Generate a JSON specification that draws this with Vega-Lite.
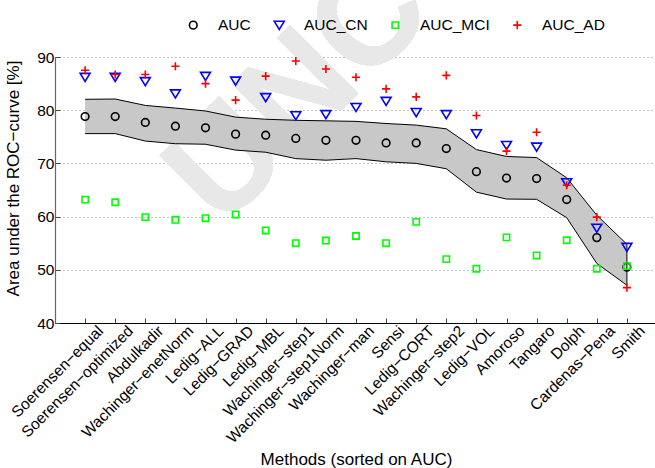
{
  "$schema": "https://vega.github.io/schema/vega-lite/v6.json",
  "autosize": "none",
  "padding": {"left": 55, "top": 57, "right": 0, "bottom": 145},
  "width": 602,
  "height": 266,
  "background": "white",
  "config": {
    "font": "Liberation Sans",
    "view": {"stroke": null},
    "axis": {"labelFont": "Liberation Sans", "titleFont": "Liberation Sans", "labelColor": "#000", "titleColor": "#000", "titleFontWeight": "normal"},
    "axisX": {
      "domainColor": "#000", "domainWidth": 1, "tickColor": "#444", "tickSize": -5, "tickWidth": 1,
      "labelFontSize": 15.5, "labelAngle": -45, "labelAlign": "right", "labelBaseline": "top", "labelPadding": 5, "labelOffset": 10,
      "labelOverlap": false, "labelBound": false, "labelFlush": false,
      "titleFontSize": 17, "grid": false
    },
    "axisY": {
      "domainColor": "#666", "domainWidth": 1.2, "tickColor": "#444", "tickSize": -5, "tickWidth": 1,
      "labelFontSize": 15.5, "labelPadding": 6, "titleFontSize": 17, "labelOverlap": false,
      "grid": true, "gridColor": "#888", "gridDash": [1, 3], "gridWidth": 1
    },
    "legend": {"labelFont": "Liberation Sans", "labelFontSize": 15.5, "labelColor": "#000"}
  },
  "data": {
    "values": [
      {"i": 1, "m": "Soerensen−equal", "AUC": 78.8, "AUC_CN": 86.2, "AUC_MCI": 63.2, "AUC_AD": 87.5, "lo": 75.6, "hi": 82.05},
      {"i": 2, "m": "Soerensen−optimized", "AUC": 78.8, "AUC_CN": 86.2, "AUC_MCI": 62.7, "AUC_AD": 86.7, "lo": 75.6, "hi": 82.1},
      {"i": 3, "m": "Abdulkadir", "AUC": 77.7, "AUC_CN": 85.4, "AUC_MCI": 59.9, "AUC_AD": 86.7, "lo": 74.2, "hi": 80.9},
      {"i": 4, "m": "Wachinger−enetNorm", "AUC": 77.0, "AUC_CN": 83.1, "AUC_MCI": 59.4, "AUC_AD": 88.25, "lo": 73.7, "hi": 80.4},
      {"i": 5, "m": "Ledig−ALL", "AUC": 76.7, "AUC_CN": 86.4, "AUC_MCI": 59.7, "AUC_AD": 85.0, "lo": 73.6, "hi": 79.85},
      {"i": 6, "m": "Ledig−GRAD", "AUC": 75.5, "AUC_CN": 85.5, "AUC_MCI": 60.4, "AUC_AD": 81.9, "lo": 72.5, "hi": 78.7},
      {"i": 7, "m": "Ledig−MBL", "AUC": 75.3, "AUC_CN": 82.4, "AUC_MCI": 57.4, "AUC_AD": 86.4, "lo": 72.1, "hi": 78.3},
      {"i": 8, "m": "Wachinger−step1", "AUC": 74.7, "AUC_CN": 79.0, "AUC_MCI": 55.0, "AUC_AD": 89.25, "lo": 70.9, "hi": 78.1},
      {"i": 9, "m": "Wachinger−step1Norm", "AUC": 74.35, "AUC_CN": 79.2, "AUC_MCI": 55.5, "AUC_AD": 87.75, "lo": 70.6, "hi": 78.0},
      {"i": 10, "m": "Wachinger−man", "AUC": 74.35, "AUC_CN": 80.55, "AUC_MCI": 56.35, "AUC_AD": 86.2, "lo": 70.9, "hi": 77.9},
      {"i": 11, "m": "Sensi", "AUC": 73.85, "AUC_CN": 81.7, "AUC_MCI": 55.0, "AUC_AD": 84.0, "lo": 70.3, "hi": 77.5},
      {"i": 12, "m": "Ledig−CORT", "AUC": 73.85, "AUC_CN": 79.6, "AUC_MCI": 59.0, "AUC_AD": 82.5, "lo": 70.0, "hi": 77.2},
      {"i": 13, "m": "Wachinger−step2", "AUC": 72.8, "AUC_CN": 79.2, "AUC_MCI": 52.0, "AUC_AD": 86.55, "lo": 69.0, "hi": 76.5},
      {"i": 14, "m": "Ledig−VOL", "AUC": 68.45, "AUC_CN": 75.6, "AUC_MCI": 50.2, "AUC_AD": 79.0, "lo": 64.6, "hi": 72.6},
      {"i": 15, "m": "Amoroso", "AUC": 67.25, "AUC_CN": 73.4, "AUC_MCI": 56.1, "AUC_AD": 72.3, "lo": 63.3, "hi": 71.3},
      {"i": 16, "m": "Tangaro", "AUC": 67.15, "AUC_CN": 73.1, "AUC_MCI": 52.7, "AUC_AD": 75.85, "lo": 63.25, "hi": 71.1},
      {"i": 17, "m": "Dolph", "AUC": 63.2, "AUC_CN": 66.4, "AUC_MCI": 55.55, "AUC_AD": 65.9, "lo": 59.8, "hi": 67.3},
      {"i": 18, "m": "Cardenas−Pena", "AUC": 56.05, "AUC_CN": 57.85, "AUC_MCI": 50.2, "AUC_AD": 59.9, "lo": 51.2, "hi": 60.25},
      {"i": 19, "m": "Smith", "AUC": 50.5, "AUC_CN": 54.25, "AUC_MCI": 50.7, "AUC_AD": 46.65, "lo": 47.1, "hi": 54.8}
    ]
  },
  "encoding": {
    "x": {
      "field": "i", "type": "quantitative",
      "scale": {"domain": [0, 20], "nice": false, "zero": false},
      "axis": {
        "title": "Methods (sorted on AUC)",
        "values": [1,2,3,4,5,6,7,8,9,10,11,12,13,14,15,16,17,18,19],
        "labelExpr": "['Soerensen−equal','Soerensen−optimized','Abdulkadir','Wachinger−enetNorm','Ledig−ALL','Ledig−GRAD','Ledig−MBL','Wachinger−step1','Wachinger−step1Norm','Wachinger−man','Sensi','Ledig−CORT','Wachinger−step2','Ledig−VOL','Amoroso','Tangaro','Dolph','Cardenas−Pena','Smith'][datum.value-1]",
        "titleX": 301, "titleY": 141, "titleBaseline": "alphabetic"
      }
    }
  },
  "layer": [
    {
      "mark": {"type": "text", "text": "UNCORRECTED", "fontSize": 140, "fontWeight": "bold", "angle": -45, "align": "left", "baseline": "middle", "color": "#e8e8e8", "font": "Liberation Sans", "clip": false},
      "encoding": {"x": {"datum": 4.55}, "y": {"datum": 63.1}}
    },
    {
      "mark": {"type": "area", "color": "#c8c8c8", "opacity": 1},
      "encoding": {
        "y": {"field": "lo", "type": "quantitative", "scale": {"domain": [40, 90], "nice": false, "zero": false},
              "title": "Area under the ROC−curve [%]",
              "axis": {"values": [40, 50, 60, 70, 80, 90], "titleX": -42, "titleY": 121, "titleAngle": -90, "titleAlign": "center", "titleBaseline": "middle"}},
        "y2": {"field": "hi"}
      }
    },
    {
      "mark": {"type": "line", "color": "#000", "strokeWidth": 1},
      "encoding": {"y": {"field": "hi", "type": "quantitative", "title": "Area under the ROC−curve [%]"}}
    },
    {
      "mark": {"type": "line", "color": "#000", "strokeWidth": 1},
      "encoding": {"y": {"field": "lo", "type": "quantitative", "title": "Area under the ROC−curve [%]"}}
    },
    {
      "transform": [{"filter": "datum.i == 19"}],
      "mark": {"type": "rule", "color": "#000", "strokeWidth": 1},
      "encoding": {"y": {"field": "lo", "type": "quantitative", "title": "Area under the ROC−curve [%]"}, "y2": {"field": "hi"}}
    },
    {
      "transform": [{"fold": ["AUC", "AUC_CN", "AUC_MCI", "AUC_AD"], "as": ["key", "v"]}],
      "mark": {"type": "point", "filled": false, "size": 81, "strokeWidth": 1.6, "opacity": 1},
      "encoding": {
        "y": {"field": "v", "type": "quantitative", "title": "Area under the ROC−curve [%]"},
        "shape": {
          "field": "key", "type": "nominal",
          "scale": {"domain": ["AUC", "AUC_CN", "AUC_MCI", "AUC_AD"],
                    "range": ["M0.85,0A0.85,0.85,0,1,1,-0.85,0A0.85,0.85,0,1,1,0.85,0Z", "M-1.1,-0.85L1.1,-0.85L0,0.95Z", "M-0.7,-0.7L0.7,-0.7L0.7,0.7L-0.7,0.7Z", "M-0.9,0L0.9,0M0,-0.9L0,0.9"]},
          "legend": {"title": null, "orient": "none", "direction": "horizontal", "legendX": 130.5, "legendY": -40, "symbolSize": 81, "symbolStrokeWidth": 1.6, "labelOffset": 17, "columnPadding": 19, "padding": 0}
        },
        "stroke": {
          "field": "key", "type": "nominal",
          "scale": {"domain": ["AUC", "AUC_CN", "AUC_MCI", "AUC_AD"], "range": ["#000000", "#0000ff", "#00ff00", "#ff0000"]},
          "legend": {"title": null, "orient": "none", "direction": "horizontal", "legendX": 130.5, "legendY": -40, "symbolSize": 81, "symbolStrokeWidth": 1.6, "labelOffset": 17, "columnPadding": 19, "padding": 0}
        }
      }
    }
  ]
}
